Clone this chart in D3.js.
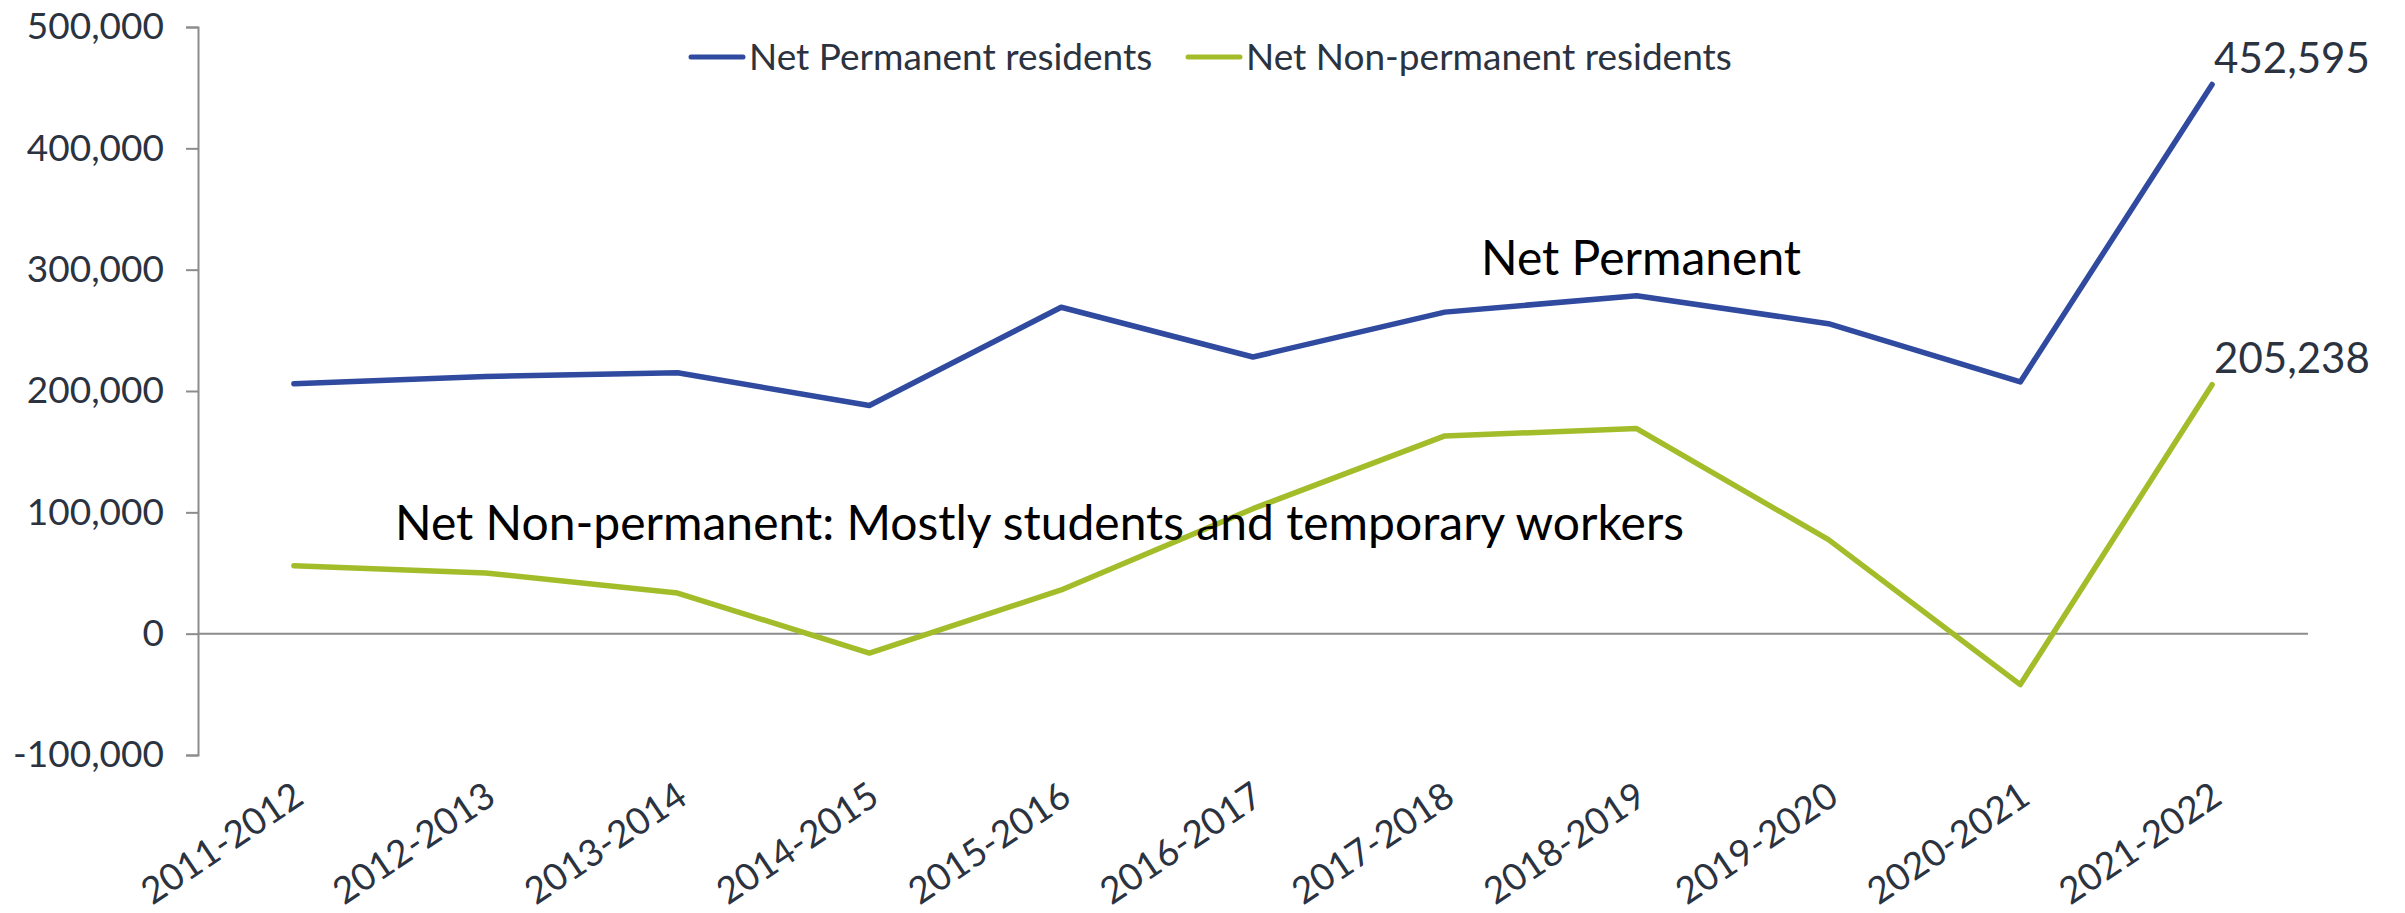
<!DOCTYPE html>
<html>
<head>
<meta charset="utf-8">
<script src="https://cdn.jsdelivr.net/npm/d3@7"></script>
<style>
  body { margin: 0; background: #fff; }
  svg { display: block; font-family: Lato, "Open Sans", sans-serif; }
</style>
</head>
<body>
<svg id="chart" width="2405" height="913"></svg>
<script>
// data
const years = ["2011-2012", "2012-2013", "2013-2014", "2014-2015", "2015-2016", "2016-2017",
  "2017-2018", "2018-2019", "2019-2020", "2020-2021", "2021-2022"];
const permanent = [206000, 212000, 215000, 188000, 269000, 228000, 265000, 278500, 255500, 207500, 452595];
const nonPermanent = [56000, 50000, 33500, -16000, 36000, 103000, 163000, 169000, 77500, -42000, 205238];
const yTicks = [-100000, 0, 100000, 200000, 300000, 400000, 500000];
const seriesNames = ["Net Permanent residents", "Net Non-permanent residents"];

const blue = "#2f4a9f", green = "#a3bd2a", textCol = "#2b3240";
const font = "Lato, 'Open Sans', sans-serif";

// plain hyphen for negatives, like the original
const fmt = d3.formatLocale({ decimal: ".", thousands: ",", grouping: [3], currency: ["", ""], minus: "-" }).format(",");

const svg = d3.select("#chart");
const m = { left: 198, right: 2308, top: 27, bottom: 755 };

const x = d3.scaleBand().domain(years).range([m.left, m.right]);
const y = d3.scaleLinear().domain([-100000, 500000]).range([m.bottom, m.top]);

// y axis
const yAxis = svg.append("g")
  .attr("transform", `translate(${m.left},0)`)
  .call(d3.axisLeft(y).tickValues(yTicks).tickSize(12).tickPadding(22).tickFormat(fmt));
yAxis.attr("font-family", font);
yAxis.select(".domain").attr("stroke", "#8c8c8c").attr("stroke-width", 2);
yAxis.selectAll(".tick line").attr("stroke", "#8c8c8c").attr("stroke-width", 2);
yAxis.selectAll(".tick text").attr("fill", textCol).attr("font-size", 37);

// zero line
svg.append("line")
  .attr("x1", m.left).attr("x2", m.right)
  .attr("y1", y(0)).attr("y2", y(0))
  .attr("stroke", "#8c8c8c").attr("stroke-width", 2);

// x labels (rotated)
svg.append("g").selectAll("text")
  .data(years)
  .join("text")
  .attr("transform", d => `translate(${x(d) + x.bandwidth() / 2 + 12},802) rotate(-34)`)
  .attr("text-anchor", "end")
  .attr("fill", textCol)
  .attr("font-size", 37)
  .text(d => d);

const line = d3.line()
  .x((d, i) => x(years[i]) + x.bandwidth() / 2)
  .y(d => y(d));

svg.append("path").datum(nonPermanent)
  .attr("d", line).attr("fill", "none")
  .attr("stroke", green).attr("stroke-width", 5.5).attr("stroke-linejoin", "round").attr("stroke-linecap", "round");

svg.append("path").datum(permanent)
  .attr("d", line).attr("fill", "none")
  .attr("stroke", blue).attr("stroke-width", 5.5).attr("stroke-linejoin", "round").attr("stroke-linecap", "round");

// end labels
const last = years.length - 1;
svg.append("text")
  .attr("x", x(years[last]) + x.bandwidth() / 2 + 2).attr("y", y(permanent[last]) - 12)
  .attr("fill", textCol).attr("font-size", 42)
  .text(fmt(permanent[last]));
svg.append("text")
  .attr("x", x(years[last]) + x.bandwidth() / 2 + 2).attr("y", y(nonPermanent[last]) - 12)
  .attr("fill", textCol).attr("font-size", 42)
  .text(fmt(nonPermanent[last]));

// legend
const legend = svg.append("g");
const legendItems = [
  { name: seriesNames[0], color: blue, x: 691 },
  { name: seriesNames[1], color: green, x: 1188 }
];
legendItems.forEach(it => {
  legend.append("line")
    .attr("x1", it.x).attr("x2", it.x + 52)
    .attr("y1", 57).attr("y2", 57)
    .attr("stroke", it.color).attr("stroke-width", 5).attr("stroke-linecap", "round");
  legend.append("text")
    .attr("x", it.x + 58).attr("y", 57).attr("dy", "0.35em")
    .attr("fill", textCol).attr("font-size", 37)
    .text(it.name);
});

// annotations
svg.append("text")
  .attr("x", 1481).attr("y", 275)
  .attr("fill", "#000").attr("font-size", 48)
  .text("Net Permanent");
svg.append("text")
  .attr("x", 395).attr("y", 540)
  .attr("fill", "#000").attr("font-size", 48)
  .text("Net Non-permanent: Mostly students and temporary workers");
</script>
</body>
</html>
